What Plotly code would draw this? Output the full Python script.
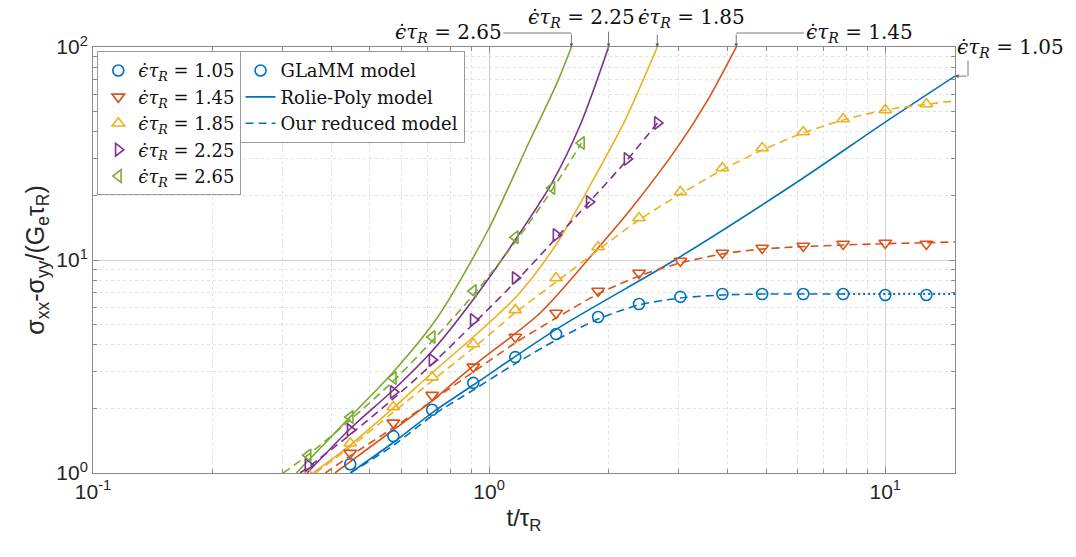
import numpy as np
import plotly.graph_objects as go

# ---------------- colours (MATLAB default order) ----------------
C_BLUE, C_RED, C_YEL, C_PUR, C_GRN = "#0072BD", "#D95319", "#EDB120", "#7E2F8E", "#77AC30"

rates = ["1.05", "1.45", "1.85", "2.25", "2.65"]

# ---------------- GLaMM model (markers) ----------------
t_glamm_105 = [0.446, 0.573, 0.718, 0.912, 1.164, 1.476, 1.884, 2.39, 3.04, 3.88, 4.89, 6.21, 7.83, 10.0, 12.7]
s_glamm_105 = [1.10, 1.49, 1.98, 2.65, 3.50, 4.49, 5.40, 6.21, 6.71, 6.92, 6.92, 6.92, 6.92, 6.85, 6.85]

t_glamm_145 = [0.446, 0.573, 0.718, 0.912, 1.164, 1.476, 1.884, 2.39, 3.04, 3.88, 4.89, 6.21, 7.83, 10.0, 12.7]
s_glamm_145 = [1.24, 1.72, 2.32, 3.15, 4.35, 5.64, 7.15, 8.69, 9.89, 10.79, 11.38, 11.63, 11.89, 12.02, 11.89]

t_glamm_185 = [0.349, 0.446, 0.573, 0.718, 0.912, 1.164, 1.476, 1.884, 2.39, 3.04, 3.88, 4.89, 6.21, 7.83, 10.0, 12.7]
s_glamm_185 = [0.99, 1.38, 2.04, 2.82, 4.03, 5.83, 8.23, 11.51, 15.75, 20.85, 27.04, 33.56, 39.9, 45.9, 50.6, 54.0]

t_glamm_225 = [0.349, 0.446, 0.573, 0.718, 0.912, 1.164, 1.476, 1.79, 2.23, 2.66]
s_glamm_225 = [1.09, 1.59, 2.40, 3.39, 5.23, 8.23, 13.1, 18.7, 29.8, 44.0]

t_glamm_265 = [0.349, 0.446, 0.573, 0.718, 0.912, 1.164, 1.44, 1.71]
s_glamm_265 = [1.21, 1.83, 2.79, 4.35, 7.15, 12.8, 21.8, 35.4]

# ---------------- Rolie-Poly model (solid) ----------------
t_rp_105 = [0.446, 0.575, 0.722, 0.912, 1.511, 3.00, 6.10, 10.0, 15.0]
s_rp_105 = [1.0, 1.398, 1.933, 2.589, 4.85, 10.22, 23.75, 44.4, 73.0]

t_rp_145 = [0.408, 0.573, 0.722, 0.912, 1.345, 1.799, 2.31, 2.98, 3.55, 4.23]
s_rp_145 = [1.0, 1.592, 2.20, 3.18, 5.64, 10.33, 17.9, 33.6, 55.7, 102.0]

t_rp_185 = [0.359, 0.446, 0.573, 0.722, 0.912, 1.177, 1.485, 1.830, 2.205, 2.67]
s_rp_185 = [1.0, 1.353, 2.02, 2.98, 4.35, 6.8, 12.02, 23.75, 45.4, 102.0]

t_rp_225 = [0.347, 0.448, 0.573, 0.722, 0.938, 1.177, 1.44, 1.697, 2.01]
s_rp_225 = [1.0, 1.627, 2.453, 3.78, 7.00, 12.82, 22.98, 42.9, 102.0]

t_rp_265 = [0.326, 0.448, 0.573, 0.739, 0.994, 1.269, 1.485, 1.620]
s_rp_265 = [1.0, 1.85, 2.98, 5.34, 13.83, 36.6, 68.0, 102.0]

# ---------------- Our reduced model (dashed) ----------------
t_rm_105 = [0.446, 0.575, 0.722, 0.912, 1.170, 1.476, 1.884, 2.39, 3.04, 3.88, 4.89, 7.83]
s_rm_105 = [1.0, 1.353, 1.87, 2.453, 3.28, 4.21, 5.28, 6.15, 6.63, 6.85, 6.92, 6.92]
t_rm_105_tail = [7.83, 15.0]
s_rm_105_tail = [6.92, 6.92]

t_rm_145 = [0.386, 0.448, 0.573, 0.722, 0.912, 1.164, 1.476, 1.884, 2.39, 3.04, 3.88, 4.89, 7.83, 15.0]
s_rm_145 = [1.0, 1.21, 1.63, 2.20, 2.98, 4.08, 5.34, 6.92, 8.41, 9.68, 10.67, 11.26, 11.76, 12.15]

t_rm_185 = [0.364, 0.446, 0.573, 0.722, 0.912, 1.17, 1.476, 1.884, 2.39, 3.04, 3.88, 4.89, 6.21, 7.83, 10.0, 15.0]
s_rm_185 = [1.0, 1.325, 1.93, 2.73, 3.86, 5.70, 7.88, 11.14, 15.41, 20.4, 26.5, 32.8, 39.5, 45.4, 50.6, 55.8]

t_rm_225 = [0.333, 0.353, 0.451, 0.579, 0.718, 0.917, 1.177, 1.485, 1.79, 2.23, 2.66]
s_rm_225 = [1.0, 1.08, 1.541, 2.27, 3.25, 5.06, 8.06, 12.82, 18.72, 29.5, 44.0]

t_rm_265 = [0.302, 0.349, 0.446, 0.573, 0.718, 0.912, 1.164, 1.44, 1.71]
s_rm_265 = [1.0, 1.215, 1.774, 2.703, 4.17, 6.85, 12.15, 21.3, 35.4]

# ---------------- axes ----------------
x_range = [0.1, 15.0]
y_range = [1.0, 100.0]
x_tickvals = [0.1, 1, 10]
x_ticktext = ["10<sup>-1</sup>", "10<sup>0</sup>", "10<sup>1</sup>"]
y_tickvals = [1, 10, 100]
y_ticktext = ["10<sup>0</sup>", "10<sup>1</sup>", "10<sup>2</sup>"]
x_minor = [0.2, 0.3, 0.4, 0.5, 0.6, 0.7, 0.8, 0.9, 2, 3, 4, 5, 6, 7, 8, 9]
y_minor = [2, 3, 4, 5, 6, 7, 8, 9, 20, 30, 40, 50, 60, 70, 80, 90]

SERIF = "DejaVu Serif"
SANS = "Liberation Sans"
LW = 1.6
DASH = "8px,5px"


def rate_label(r):
    return f"<i>ϵ̇τ</i><sub><i>R</i></sub> = {r}"


series = [
    (rates[0], C_BLUE, "circle-open", t_glamm_105, s_glamm_105, t_rp_105, s_rp_105, t_rm_105, s_rm_105),
    (rates[1], C_RED, "triangle-down-open", t_glamm_145, s_glamm_145, t_rp_145, s_rp_145, t_rm_145, s_rm_145),
    (rates[2], C_YEL, "triangle-up-open", t_glamm_185, s_glamm_185, t_rp_185, s_rp_185, t_rm_185, s_rm_185),
    (rates[3], C_PUR, "triangle-right-open", t_glamm_225, s_glamm_225, t_rp_225, s_rp_225, t_rm_225, s_rm_225),
    (rates[4], C_GRN, "triangle-left-open", t_glamm_265, s_glamm_265, t_rp_265, s_rp_265, t_rm_265, s_rm_265),
]

fig = go.Figure()

for r, col, sym, tg, sg, tr, sr, tm, sm in series:
    fig.add_trace(go.Scatter(x=tr, y=sr, mode="lines", line=dict(color=col, width=LW, shape="spline", smoothing=0.8),
                             showlegend=False))
    fig.add_trace(go.Scatter(x=tm, y=sm, mode="lines",
                             line=dict(color=col, width=LW, dash=DASH, shape="spline", smoothing=0.8),
                             showlegend=False))
fig.add_trace(go.Scatter(x=t_rm_105_tail, y=s_rm_105_tail, mode="lines",
                         line=dict(color=C_BLUE, width=LW + 0.4, dash="2px,3px"), showlegend=False))

for r, col, sym, tg, sg, tr, sr, tm, sm in series:
    fig.add_trace(go.Scatter(x=tg, y=sg, mode="markers", name=rate_label(r), legend="legend",
                             marker=dict(symbol=sym, size=11, color=col, line=dict(width=1.6, color=col))))

# second legend (model types)
fig.add_trace(go.Scatter(x=[None], y=[None], mode="markers", name="GLaMM model", legend="legend2",
                         marker=dict(symbol="circle-open", size=11, color=C_BLUE, line=dict(width=1.6, color=C_BLUE))))
fig.add_trace(go.Scatter(x=[None], y=[None], mode="lines", name="Rolie-Poly model", legend="legend2",
                         line=dict(color=C_BLUE, width=LW)))
fig.add_trace(go.Scatter(x=[None], y=[None], mode="lines", name="Our reduced model", legend="legend2",
                         line=dict(color=C_BLUE, width=LW, dash=DASH)))


def end_logt(t, s, level=100.0):
    return float(np.interp(np.log10(level), np.log10(s), np.log10(t)))


ARR = "#555555"
afont = dict(family=SERIF, size=20, color="#111111")
ann = []
top = np.log10(y_range[1])

# 2.65 (green): text left, horizontal line, arrow down
lx = end_logt(t_rp_265, s_rp_265)
ann.append(dict(x=lx, y=top, text="", showarrow=True, ax=0, ay=-14, arrowhead=2, arrowsize=0.9,
                arrowwidth=0.8, arrowcolor=ARR))
ann.append(dict(x=lx, y=top, yshift=14, text=rate_label(rates[4]), font=afont, showarrow=True,
                ax=-123, ay=0, arrowhead=0, arrowwidth=0.8, arrowcolor=ARR))
# 2.25 (purple): text above, arrow down
lx = end_logt(t_rp_225, s_rp_225)
ann.append(dict(x=lx, y=top, text="", showarrow=True, ax=0, ay=-17, arrowhead=2, arrowsize=0.9,
                arrowwidth=0.8, arrowcolor=ARR))
ann.append(dict(x=lx, y=top, xshift=-27, yshift=29, text=rate_label(rates[3]), font=afont, showarrow=False))
# 1.85 (yellow): text above right, arrow down
lx = end_logt(t_rp_185, s_rp_185)
ann.append(dict(x=lx, y=top, text="", showarrow=True, ax=0, ay=-14, arrowhead=2, arrowsize=0.9,
                arrowwidth=0.8, arrowcolor=ARR))
ann.append(dict(x=lx, y=top, xshift=34, yshift=29, text=rate_label(rates[2]), font=afont, showarrow=False))
# 1.45 (red): text right, horizontal line, arrow down
lx = end_logt(t_rp_145, s_rp_145)
ann.append(dict(x=lx, y=top, text="", showarrow=True, ax=0, ay=-14, arrowhead=2, arrowsize=0.9,
                arrowwidth=0.8, arrowcolor=ARR))
ann.append(dict(x=lx, y=top, yshift=14, text=rate_label(rates[1]), font=afont, showarrow=True,
                ax=123, ay=0, arrowhead=0, arrowwidth=0.8, arrowcolor=ARR))
# 1.05 (blue): arrow pointing left to line end, vertical line up to text
bx = np.log10(t_rp_105[-1])
by = np.log10(s_rp_105[-1])
ann.append(dict(x=bx, y=by, text="", showarrow=True, ax=13, ay=0, arrowhead=2, arrowsize=0.9,
                arrowwidth=0.8, arrowcolor=ARR))
ann.append(dict(x=bx, y=by, xshift=13, text="", showarrow=True, ax=0, ay=-17, arrowhead=0,
                arrowwidth=0.8, arrowcolor=ARR))
ann.append(dict(x=bx, y=by, xshift=55, yshift=28, text=rate_label(rates[0]), font=afont, showarrow=False))

for a in ann:
    a.setdefault("xref", "x")
    a.setdefault("yref", "y")
    a["standoff"] = 0

AX_COL = "#8a8a8a"
GRID = "#cfcfcf"
MINOR_GRID = "#e2e2e2"
tickfont = dict(family=SANS, size=21, color="#262626")

common_axis = dict(type="log", showline=True, linecolor=AX_COL, linewidth=1, mirror="ticks",
                   ticks="inside", ticklen=6, tickcolor=AX_COL, tickwidth=1,
                   showgrid=True, gridcolor=GRID, gridwidth=1, zeroline=False,
                   tickfont=tickfont)

legend_common = dict(xanchor="left", yanchor="top", bgcolor="white", bordercolor="#9a9a9a", borderwidth=1,
                     font=dict(family=SERIF, size=18, color="#111111"), tracegroupgap=0, itemwidth=30)

fig.update_layout(
    width=1076, height=557,
    margin=dict(l=93, r=121, t=47, b=84),
    paper_bgcolor="white", plot_bgcolor="white",
    xaxis=dict(range=[np.log10(x_range[0]), np.log10(x_range[1])], tickmode="array",
               tickvals=x_tickvals, ticktext=x_ticktext,
               minor=dict(tickmode="array", tickvals=x_minor, ticks="inside", ticklen=4,
                          tickcolor=AX_COL, showgrid=True, gridcolor=MINOR_GRID, griddash="dot"),
               title=dict(text="t/τ<sub>R</sub>", font=dict(family=SANS, size=24, color="#262626"),
                          standoff=6),
               **common_axis),
    yaxis=dict(range=[np.log10(y_range[0]), np.log10(y_range[1])], tickmode="array",
               tickvals=y_tickvals, ticktext=y_ticktext,
               minor=dict(tickmode="array", tickvals=y_minor, ticks="inside", ticklen=4,
                          tickcolor=AX_COL, showgrid=True, gridcolor=MINOR_GRID, griddash="dot"),
               title=dict(text="σ<sub>xx</sub>-σ<sub>yy</sub>/(G<sub>e</sub>τ<sub>R</sub>)",
                          font=dict(family=SANS, size=25, color="#262626"), standoff=4),
               **common_axis),
    legend=dict(x=0.005, y=0.99, **legend_common),
    legend2=dict(x=0.17, y=0.99, **legend_common),
    annotations=ann,
)

fig.write_html("out.html")
